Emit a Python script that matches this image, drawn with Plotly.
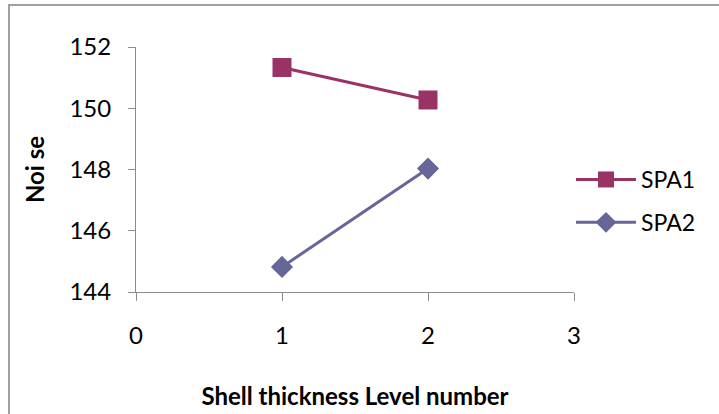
import plotly.graph_objects as go

x_levels = [1, 2]
spa1 = [151.33, 150.27]
spa2 = [144.82, 148.03]
x_ticks = [0, 1, 2, 3]
y_ticks = [144, 146, 148, 150, 152]

W, H = 719, 414
L, R, T, B = 136, 145, 47, 122
pw, ph = W - L - R, H - T - B

FONT = "Lato, 'Open Sans', sans-serif"

fig = go.Figure()
fig.add_trace(go.Scatter(
    x=x_levels, y=spa1, name="SPA1", mode="lines+markers", legendgroup="a",
    line=dict(color="#993366", width=3),
    marker=dict(symbol="square", size=19, color="#993366"),
))
fig.add_trace(go.Scatter(
    x=x_levels, y=spa2, name="SPA2", mode="lines+markers", legendgroup="b",
    line=dict(color="#666699", width=3),
    marker=dict(symbol="diamond", size=17, color="#666699"),
))

axis_common = dict(
    showgrid=False, zeroline=False, showline=True, linecolor="#8c8c8c", linewidth=1,
    ticks="outside", tickcolor="#8c8c8c", tickwidth=1, automargin=False,
    tickfont=dict(family=FONT, size=24, color="black"),
)
fig.update_xaxes(range=[0, 3], tickvals=x_ticks, ticklen=8, ticklabelstandoff=14, **axis_common,
                 title=dict(text="<b>Shell thickness Level number</b>", standoff=40,
                            font=dict(family=FONT, size=24, color="black")))
fig.update_yaxes(range=[144, 152], tickvals=y_ticks, ticklen=7, ticklabelstandoff=12, **axis_common,
                 title=dict(text="<b>Noi se</b>", standoff=18,
                            font=dict(family=FONT, size=24, color="black")))

fig.add_shape(type="rect", xref="paper", yref="paper",
              x0=(9 - L) / pw, x1=(W + 10 - L) / pw,
              y0=1 - (H + 10 - T) / ph, y1=1 + (T - 5) / ph,
              line=dict(color="#a0a0a0", width=2), fillcolor="rgba(0,0,0,0)", layer="below")

fig.update_layout(
    width=W, height=H, margin=dict(l=L, r=R, t=T, b=B, autoexpand=False),
    paper_bgcolor="white", plot_bgcolor="white",
    showlegend=True,
    legend=dict(x=(571 - L) / pw, y=1 - (158 - T) / ph, xanchor="left", yanchor="top",
                font=dict(family=FONT, size=23, color="black"),
                itemwidth=60,
                tracegroupgap=10, traceorder="grouped", bgcolor="rgba(0,0,0,0)"),
)

fig.write_html("out.html", config={"displayModeBar": False},
               post_script="document.body.style.margin='0';document.body.style.overflow='hidden';")
